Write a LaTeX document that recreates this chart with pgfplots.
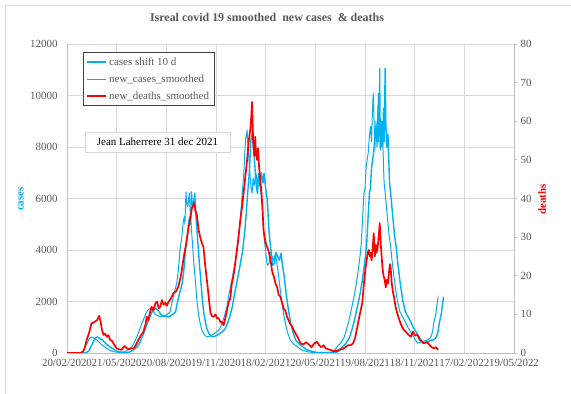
\documentclass[border=0pt]{standalone}
\usepackage{fontspec}
\setmainfont{Liberation Serif}
\usepackage{pgfplots}
\usepackage{pgfplotstable}
\pgfplotsset{compat=1.18}
\definecolor{xlcyan}{HTML}{00B0F0}
\definecolor{xlred}{HTML}{FF0000}
\definecolor{txtgray}{HTML}{595959}
\definecolor{gridgray}{HTML}{D9D9D9}
\definecolor{axgray}{HTML}{BFBFBF}

\pgfplotstableread{
day cases
0 0
10 0
20 5
25 15
30 80
35 300
40 520
43 600
46 620
50 560
55 500
60 400
64 310
68 250
73 180
78 110
82 70
88 40
95 25
100 20
105 40
110 100
115 170
119 250
124 420
128 630
133 900
137 1150
142 1400
146 1600
150 1700
153 1740
157 1650
162 1500
166 1450
170 1420
175 1400
180 1450
186 1540
189 1600
192 1930
196 2300
201 2700
204 3200
207 4000
209 4300
211 4650
213 5100
215 5300
216 5000
218 6260
219 5900
221 5680
222 5800
224 6200
226 5420
229 4520
231 3900
233 3350
236 2600
238 2060
241 1500
244 1150
247 900
250 765
253 680
256 633
260 640
266 700
270 760
275 830
280 950
284 1150
288 1400
293 1800
297 2300
302 2830
307 3400
312 4000
316 4800
318 5300
321 6200
324 7000
327 8270
329 8500
330 8660
331 8200
333 7620
335 7000
337 6460
339 6200
341 6800
343 6500
346 7000
349 6600
351 6980
354 6400
357 5940
360 4780
362 4300
365 3740
367 3400
370 3480
373 3900
376 3740
379 3600
382 3870
385 3400
388 2960
391 2400
394 1930
397 1500
400 1150
404 800
409 505
415 350
422 245
430 120
440 50
450 20
460 15
470 15
480 20
485 40
490 100
495 245
500 350
507 570
512 900
517 1300
522 1800
527 2300
532 2960
536 3600
539 4200
541 5000
544 6200
546 6400
548 7200
550 7500
552 7800
554 8400
556 8800
558 8200
559 9000
561 10080
563 8700
564 7900
566 9000
568 8000
570 9500
571 8200
573 11050
574 9000
576 8000
578 8500
581 6600
583 6200
586 5500
590 4600
593 4130
596 3500
600 2800
605 2060
610 1600
615 1400
620 1200
624 1020
630 800
636 600
642 380
648 420
652 450
656 480
660 500
664 550
667 630
670 850
672 1160
676 1550
678 1900
680 2186
}\casestable

\pgfplotstableread{
day deaths
0 0
25 0
30 0.5
33 1.5
36 3.4
40 5
45 7.7
50 8
55 8.5
59 9.6
61 8.5
64 6
67 4.7
70 5
73 4.2
76 4.6
79 3.4
82 3.2
85 2.5
88 1.8
91 1.2
95 1
100 0.8
103 1.4
106 1.8
110 1.2
113 1
118 1.2
122 1.2
126 2
131 3.4
135 4.5
140 5.5
144 7.5
146 9.4
149 8.5
152 10.5
155 12
158 11
162 12.9
165 13.3
168 11.6
171 12
174 13.7
177 12.5
180 13
183 12.2
186 13.3
190 14
195 15.5
200 16
204 17.2
208 19.5
211 22
214 25
218 28
223 32.7
226 35
229 37.5
233 38.8
235 37
238 35.7
241 32
244 30
247 28.5
250 27.5
253 23
257 18
260 14
263 10.3
266 9.5
269 9.4
272 10
275 9
278 9
281 8
284 8
287 7.2
290 9
293 11
296 13
299 14
302 18
305 20
308 23
312 27.5
315 31
318 35
321 38
324 42
327 46
330 50
333 55
336 58
338 62
339 65
340 60
341 55
343 51
345 56
346 52
348 50
350 53
352 48
354 45
356 42
358 38
360 32
362 30
365 28
368 27
370 26
373 24
376 21
379 19.8
382 18
385 17
388 15
391 14.6
394 13
397 11.5
400 11
403 9.4
406 8.5
409 7.5
412 7
415 6
419 5
423 4
428 2.5
433 2.2
438 2.8
443 2.2
448 1.5
453 2.5
458 2.9
462 2
466 1.5
470 2
474 1.2
478 1
483 0.8
488 0.5
495 0.5
500 1
505 1
510 1.5
515 2
520 2
524 2.5
528 4
532 6.8
535 9
538 11
541 13
544 18
547 22
549 24
551 26
553 26.7
555 25
556 26
558 24
560 27
562 31
564 25
566 28
567 26
569 27
571 30
573 33.6
575 28
577 24
578 22
580 20
582 19
584 17
586 19
588 18
590 21
592 23
593 22
595 18
597 16
599 14.6
602 12
605 10.3
609 8.5
613 7
617 6
621 5.5
625 4.8
630 4.2
634 5.5
638 4.5
642 4.7
646 3.5
650 3
654 2.5
658 2.8
662 2.5
667 1.6
672 1.2
676 1.5
680 0.8
}\deathstable

\begin{document}
\begin{tikzpicture}
\useasboundingbox (0,0) rectangle (571bp,394bp);
\fill[white] (0,0) rectangle (571bp,394bp);
\draw[gridgray, line width=0.75bp] (5.5bp,0) -- (5.5bp,388.5bp) -- (571bp,388.5bp);
\begin{axis}[
  at={(67bp,41bp)}, anchor=south west,
  scale only axis, width=447bp, height=309bp,
  xmin=0, xmax=819, ymin=0, ymax=12000,
  xtick={0,91,...,819},
  xticklabels={20/02/2020,21/05/2020,20/08/2020,19/11/2020,18/02/2021,20/05/2021,19/08/2021,18/11/2021,17/02/2022,19/05/2022},
  ytick={0,2000,...,12000},
  scaled y ticks=false,
  grid=major, grid style={gridgray, line width=0.75bp},
  axis lines*=left,
  axis line style={axgray, line width=0.75bp},
  major tick length=0pt,
  tick label style={font=\fontsize{11}{12}\selectfont, text=txtgray},
  xticklabel style={inner xsep=0pt, yshift=-2.5bp},
  yticklabel style={xshift=-6bp},
  /pgf/number format/assume math mode=true,
  /pgf/number format/1000 sep={},
]
\addplot[xlcyan, line width=1.4bp, line join=round] table[x expr=\thisrow{day}+10, y=cases] {\casestable};
\addplot[xlcyan, line width=1.0bp, line join=round] table[x=day, y=cases] {\casestable};
\end{axis}
\begin{axis}[
  at={(67bp,41bp)}, anchor=south west,
  scale only axis, width=447bp, height=309bp,
  xmin=0, xmax=819, ymin=0, ymax=80,
  axis x line=none, axis y line*=right,
  axis line style={axgray, line width=0.75bp},
  ytick={0,10,...,80},
  tick align=outside, major tick length=3bp,
  tick style={axgray, line width=0.75bp},
  tick label style={font=\fontsize{11}{12}\selectfont, text=txtgray},
  /pgf/number format/assume math mode=true,
  legend cell align=left,
  legend style={at={(0.036,0.974)}, anchor=north west, draw=black!75, line width=0.75bp,
    fill=white, font=\fontsize{11}{12}\selectfont, text=txtgray,
    row sep=4bp, inner xsep=3bp, inner ysep=3bp},
  legend image code/.code={\draw[#1] (0bp,0bp) -- (19bp,0bp);},
]
\addlegendimage{xlcyan, line width=1.6bp}
\addlegendentry{cases shift 10 d}
\addlegendimage{xlcyan, line width=1.0bp}
\addlegendentry{new\_cases\_smoothed}
\addplot[xlred, line width=1.7bp, line join=round] table[x=day, y=deaths] {\deathstable};
\addlegendentry{new\_deaths\_smoothed}
\end{axis}
\node[font=\fontsize{12}{14}\selectfont\bfseries, text=txtgray] at (267bp,377bp) {Isreal covid 19 smoothed\ \ new cases\ \ \& deaths};
\node[rotate=90, font=\fontsize{11}{12}\selectfont\bfseries, text=xlcyan] at (21bp,195bp) {cases};
\node[rotate=90, font=\fontsize{11}{12}\selectfont\bfseries, text=xlred] at (542bp,194.5bp) {deaths};
\node[draw=gridgray, line width=0.75bp, fill=white, minimum width=145bp, minimum height=20bp, inner sep=0pt, font=\fontsize{11}{12}\selectfont] at (157.5bp,252bp) {Jean Laherrere 31 dec 2021};
\end{tikzpicture}
\end{document}
